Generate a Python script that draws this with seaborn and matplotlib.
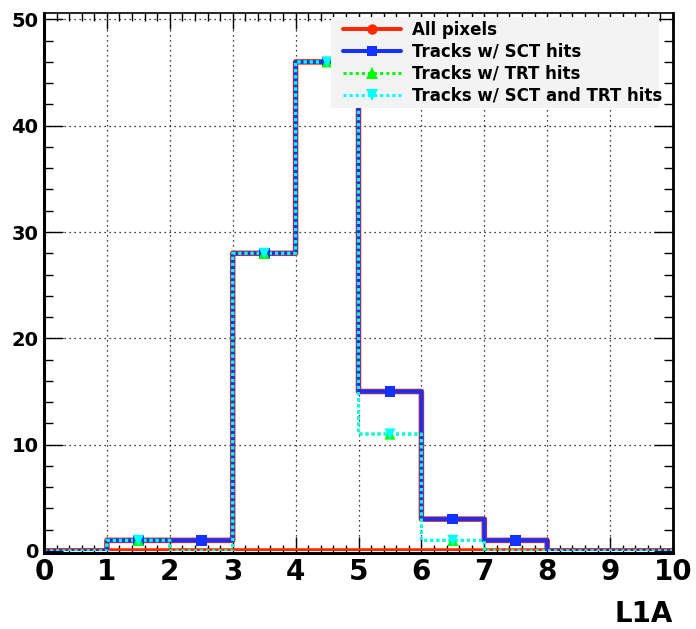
import numpy as np
import pandas as pd
import matplotlib
matplotlib.use("Agg")
import matplotlib.pyplot as plt
from matplotlib.lines import Line2D
from matplotlib.patches import Rectangle
from matplotlib.ticker import MultipleLocator
import seaborn as sns

# ---- data ----
l1a_edges = [0, 1, 2, 3, 4, 5, 6, 7, 8, 9, 10]
l1a_centers = [0.5, 1.5, 2.5, 3.5, 4.5, 5.5, 6.5, 7.5, 8.5, 9.5]
all_pixels = [0, 1, 1, 28, 46, 15, 3, 1, 0, 0]
tracks_sct = [0, 1, 1, 28, 46, 15, 3, 1, 0, 0]
tracks_trt = [0, 1, 0, 28, 46, 11, 1, 0, 0, 0]
tracks_sct_trt = [0, 1, 0, 28, 46, 11, 1, 0, 0, 0]
series_labels = ["All pixels", "Tracks w/ SCT hits", "Tracks w/ TRT hits",
                 "Tracks w/ SCT and TRT hits"]
x_ticks = [0, 1, 2, 3, 4, 5, 6, 7, 8, 9, 10]
y_ticks = [0, 10, 20, 30, 40, 50]

RED = "#ff2a00"
BLUE = "#1432ff"
GREEN = "#00ff00"
CYAN = "#00ffff"

sns.set_theme(style="white")
plt.rcParams["font.family"] = ["DejaVu Sans"]
plt.rcParams["font.weight"] = "bold"
plt.rcParams["text.color"] = "black"
plt.rcParams["axes.labelcolor"] = "black"
plt.rcParams["xtick.color"] = "black"
plt.rcParams["ytick.color"] = "black"

fig = plt.figure(figsize=(6.96, 6.29), dpi=100)
fig.patch.set_facecolor("white")
ax = fig.add_axes([44 / 696, 78 / 629, (673 - 44) / 696, (551 - 13) / 629])
ax.set_facecolor("white")
for side, w in [("left", 2.2), ("bottom", 2.2), ("right", 2.0), ("top", 1.2)]:
    ax.spines[side].set_visible(True)
    ax.spines[side].set_color("black")
    ax.spines[side].set_linewidth(w)
ax.spines["bottom"].set_position(("outward", 1.3))

# All pixels: closed outline (ROOT-style hollow histogram)
sns.histplot(x=l1a_centers, weights=all_pixels, bins=l1a_edges, element="step",
             fill=True, color=RED, ax=ax)
poly = ax.collections[-1]
poly.set_alpha(1)
poly.set_facecolor("none")
poly.set_edgecolor(RED)
poly.set_linewidth(4.0)
poly.set_zorder(2)
poly.set_snap(False)

sns.histplot(x=l1a_centers, weights=tracks_sct, bins=l1a_edges, element="step",
             fill=False, color=BLUE, linewidth=2.9, ax=ax)
sns.histplot(x=l1a_centers, weights=tracks_trt, bins=l1a_edges, element="step",
             fill=False, color=GREEN, linewidth=2.2, linestyle=(0, (1, 1)), ax=ax)
sns.histplot(x=l1a_centers, weights=tracks_sct_trt, bins=l1a_edges, element="step",
             fill=False, color=CYAN, linewidth=2.2, linestyle=(0, (1, 1)), ax=ax)
for ln in ax.lines:
    ln.set_solid_capstyle("butt")
    ln.set_dash_capstyle("butt")
    ln.set_snap(False)

def markers(vals, marker, color, size, z):
    c = np.array(l1a_centers)
    v = np.array(vals, dtype=float)
    m = v > 0
    sns.scatterplot(x=c[m], y=v[m], marker=marker, color=color, s=size,
                    edgecolor="none", linewidth=0, ax=ax, zorder=z)

markers(all_pixels, "o", RED, 50, 3)
markers(tracks_sct, "s", BLUE, 60, 3.1)
markers(tracks_trt, "^", GREEN, 65, 3.2)
markers(tracks_sct_trt, "v", CYAN, 65, 3.3)

ax.set_xlim(0, 10)
ax.set_ylim(0, 50.6)
ax.set_xticks(x_ticks)
ax.set_yticks(y_ticks)
ax.set_xticklabels([str(t) for t in x_ticks], fontsize=20, fontweight="bold")
ax.set_yticklabels([str(t) for t in y_ticks], fontsize=14, fontweight="bold")
ax.xaxis.set_minor_locator(MultipleLocator(0.2))
ax.yaxis.set_minor_locator(MultipleLocator(2))
ax.tick_params(axis="x", which="major", direction="in", length=11.5, width=1,
               top=True, bottom=True, pad=4, colors="black")
ax.tick_params(axis="x", which="minor", direction="in", length=5.8, width=1,
               top=True, bottom=True)
ax.tick_params(axis="y", which="major", direction="in", length=13.7, width=1,
               left=True, right=True, pad=4, colors="black")
ax.tick_params(axis="y", which="minor", direction="in", length=6.8, width=1,
               left=True, right=True)
ax.grid(True, which="major", color="black", linestyle=(0, (1, 3)), linewidth=0.9)
ax.set_axisbelow(True)

ax.set_ylabel("")
ax.set_xlabel("L1A", fontsize=20, fontweight="bold", loc="right", labelpad=10,
              color="black")

# legend background
rect = Rectangle((331 / 696, 1 - 108 / 629), (659 - 331) / 696, (108 - 17) / 629,
                 transform=fig.transFigure, facecolor="#f3f3f3", edgecolor="none",
                 zorder=4)
fig.add_artist(rect)

handles = [
    Line2D([], [], color=RED, lw=2.9, marker="o", markersize=7.5, markeredgewidth=0),
    Line2D([], [], color=BLUE, lw=2.9, marker="s", markersize=7.5, markeredgewidth=0),
    Line2D([], [], color=GREEN, lw=2.2, ls=(0, (1, 1)), marker="^", markersize=8,
           markeredgewidth=0),
    Line2D([], [], color=CYAN, lw=2.2, ls=(0, (1, 1)), marker="v", markersize=8,
           markeredgewidth=0),
]
leg = fig.legend(handles, series_labels, loc="upper left",
                 bbox_to_anchor=(343 / 696, 1 - 21 / 629),
                 bbox_transform=fig.transFigure, frameon=False, borderpad=0,
                 borderaxespad=0, handlelength=3.45, handletextpad=0.7,
                 labelspacing=0.24, prop={"size": 12, "weight": "bold"})
leg.set_zorder(5)
for t in leg.get_texts():
    t.set_color("black")

fig.savefig("out.png", dpi=100)
